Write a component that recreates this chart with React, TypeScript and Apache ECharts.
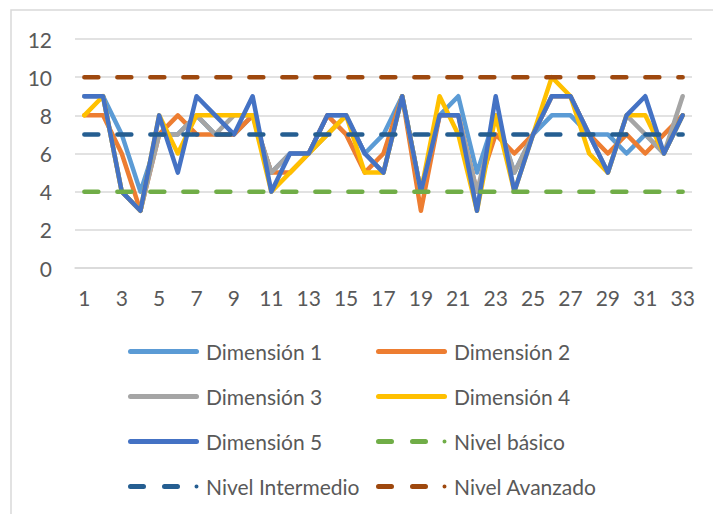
import React, { useEffect, useRef } from "react";
import * as echarts from "echarts";

const categories = ["1","2","3","4","5","6","7","8","9","10","11","12","13","14","15","16","17","18","19","20","21","22","23","24","25","26","27","28","29","30","31","32","33"];

const dim1 = [9, 9, 7, 4, 7, 7, 8, 7, 7, 8, 5, 6, 6, 8, 8, 6, 7, 9, 4, 8, 9, 5, 8, 5, 7, 8, 8, 7, 7, 6, 7, 6, 8];
const dim2 = [8, 8, 6, 3, 7, 8, 7, 7, 7, 8, 5, 5, 6, 8, 7, 5, 6, 9, 3, 8, 8, 4, 7, 6, 7, 9, 9, 7, 6, 7, 6, 7, 8];
const dim3 = [9, 9, 4, 3, 7, 7, 8, 7, 8, 8, 5, 6, 6, 7, 8, 6, 5, 9, 4, 8, 8, 4, 8, 5, 7, 9, 9, 7, 5, 8, 7, 6, 9];
const dim4 = [8, 9, 4, 3, 8, 6, 8, 8, 8, 8, 4, 5, 6, 7, 8, 5, 5, 9, 4, 9, 7, 3, 8, 4, 7, 10, 9, 6, 5, 8, 8, 6, 8];
const dim5 = [9, 9, 4, 3, 8, 5, 9, 8, 7, 9, 4, 6, 6, 8, 8, 6, 5, 9, 4, 8, 8, 3, 9, 4, 7, 9, 9, 7, 5, 8, 9, 6, 8];
const nivelBasico = [4, 4, 4, 4, 4, 4, 4, 4, 4, 4, 4, 4, 4, 4, 4, 4, 4, 4, 4, 4, 4, 4, 4, 4, 4, 4, 4, 4, 4, 4, 4, 4, 4];
const nivelIntermedio = [7, 7, 7, 7, 7, 7, 7, 7, 7, 7, 7, 7, 7, 7, 7, 7, 7, 7, 7, 7, 7, 7, 7, 7, 7, 7, 7, 7, 7, 7, 7, 7, 7];
const nivelAvanzado = [10, 10, 10, 10, 10, 10, 10, 10, 10, 10, 10, 10, 10, 10, 10, 10, 10, 10, 10, 10, 10, 10, 10, 10, 10, 10, 10, 10, 10, 10, 10, 10, 10];

const seriesNames = ["Dimensión 1", "Dimensión 2", "Dimensión 3", "Dimensión 4", "Dimensión 5", "Nivel básico", "Nivel Intermedio", "Nivel Avanzado"];
const seriesData = [dim1, dim2, dim3, dim4, dim5, nivelBasico, nivelIntermedio, nivelAvanzado];
const seriesColors = ["#5B9BD5", "#ED7D31", "#A5A5A5", "#FFC000", "#4472C4", "#70AD47", "#255E91", "#9E480E"];
const seriesDashed = [false, false, false, false, false, true, true, true];

const yTicks = { min: 0, max: 12, interval: 2 };

const solidIcon = "path://M2.5,0H68.5A2.5,2.5 0 0 1 68.5,5H2.5A2.5,2.5 0 0 1 2.5,0Z";
const dashedIcon =
  "path://M2.5,0H15.5A2.5,2.5 0 0 1 15.5,5H2.5A2.5,2.5 0 0 1 2.5,0Z" +
  "M36.5,0H49.5A2.5,2.5 0 0 1 49.5,5H36.5A2.5,2.5 0 0 1 36.5,0Z" +
  "M68.5,0.5A2,2 0 0 1 68.5,4.5A2,2 0 0 1 68.5,0.5Z M0,0 M71,5";

export default function App() {
  const ref = useRef<HTMLDivElement>(null);
  useEffect(() => {
    document.body.style.margin = "0";
    const chart = echarts.init(ref.current!, null, { renderer: "svg" });
    const font = "Lato, 'Noto Sans', sans-serif";
    const legendCommon = {
      orient: "vertical",
      top: 341,
      itemWidth: 71,
      itemHeight: 5,
      itemGap: 24,
      padding: 0,
      selectedMode: false,
      textStyle: { fontFamily: font, fontSize: 21, color: "#595959", lineHeight: 21, padding: [0, 0, 0, 2] },
    };
    const legendItem = (name: string) => {
      const i = seriesNames.indexOf(name);
      return { name, icon: seriesDashed[i] ? dashedIcon : solidIcon };
    };
    chart.setOption({
      animation: false,
      backgroundColor: "#ffffff",
      graphic: [
        {
          type: "rect",
          shape: { x: 11, y: 10, width: 800, height: 600 },
          style: { fill: "none", stroke: "#d9d9d9", lineWidth: 1.5 },
          silent: true,
        },
      ],
      grid: { left: 75, right: 21, top: 39, bottom: 246, containLabel: false },
      xAxis: {
        type: "category",
        data: categories,
        boundaryGap: true,
        axisLine: { show: true, lineStyle: { color: "#d9d9d9", width: 1.5 } },
        axisTick: { show: false },
        axisLabel: { interval: 1, margin: 19, fontFamily: font, fontSize: 21, color: "#595959" },
      },
      yAxis: {
        type: "value",
        min: yTicks.min,
        max: yTicks.max,
        interval: yTicks.interval,
        axisLine: { show: false },
        axisTick: { show: false },
        splitLine: { lineStyle: { color: "#d9d9d9", width: 1.5 } },
        axisLabel: { margin: 23, fontFamily: font, fontSize: 21, color: "#595959" },
      },
      legend: [
        { ...legendCommon, left: 128, data: ["Dimensión 1", "Dimensión 3", "Dimensión 5", "Nivel Intermedio"].map(legendItem) },
        { ...legendCommon, left: 376, data: ["Dimensión 2", "Dimensión 4", "Nivel básico", "Nivel Avanzado"].map(legendItem) },
      ],
      series: seriesNames.map((name, i) => ({
        name,
        type: "line",
        data: seriesData[i],
        symbol: "none",
        color: seriesColors[i],
        itemStyle: { color: seriesColors[i] },
        lineStyle: {
          color: seriesColors[i],
          width: 4.5,
          type: seriesDashed[i] ? [14, 19] : "solid",
          cap: "round",
          join: "round",
        },
        emphasis: { disabled: true },
      })),
    });
    return () => chart.dispose();
  }, []);
  return <div ref={ref} style={{ width: 713, height: 514 }} />;
}
